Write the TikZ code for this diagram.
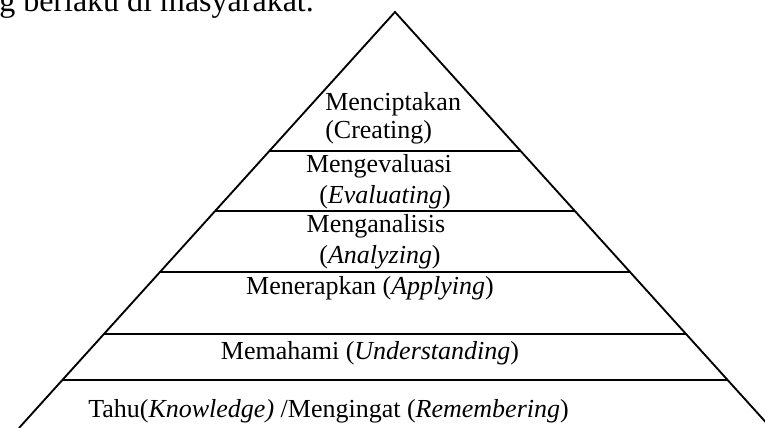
\documentclass[tikz,border=0pt]{standalone}
\usepackage{fontspec}
\setmainfont{Liberation Serif}
\usetikzlibrary{positioning, calc}

\tikzset{
    level/.style={inner sep=0pt, anchor=base, font=\fontsize{19.5}{24}\selectfont},
    side/.style={line width=1.4pt},
    divider/.style={line width=1.7pt}
}

\begin{document}
\begin{tikzpicture}[x=0.75pt, y=-0.75pt]
    \useasboundingbox (0, 0) rectangle (765, 428);
    \clip (0, 0) rectangle (765, 428);
    % text above the figure
    \node (para) [anchor=base west, inner sep=0pt, font=\fontsize{24}{28}\selectfont] at (-1, 12) {g berlaku di masyarakat.};
    % pyramid
    \coordinate (apex) at (395, 12);
    \coordinate (baseL) at (19, 428);
    \coordinate (baseR) at (771, 428);
    \draw [side] (baseL) -- (apex) -- (baseR);
    \foreach \t in {0.334, 0.478, 0.625, 0.774, 0.885}
        \draw [divider] ($(apex)!\t!(baseL)$) -- ($(apex)!\t!(baseR)$);
    % levels
    \node (creating) [level, anchor=base west] at (325, 111) {Menciptakan};
    \node (creatingEn) [level, anchor=base west] at (325, 139) {(Creating)};
    \node (evaluating) [level] at (379, 172) {Mengevaluasi};
    \node (evaluatingEn) [level] at (385, 204) {(\textit{Evaluating})};
    \node (analyzing) [level] at (376, 233) {Menganalisis};
    \node (analyzingEn) [level] at (380, 263) {(\textit{Analyzing})};
    \node (applying) [level] at (370, 294) {Menerapkan (\textit{Applying})};
    \node (understanding) [level] at (370, 359) {Memahami (\textit{Understanding})};
    \node (remembering) [level, anchor=base west] at (88, 417) {Tahu(\textit{Knowledge)} /Mengingat (\textit{Remembering})};
\end{tikzpicture}
\end{document}
